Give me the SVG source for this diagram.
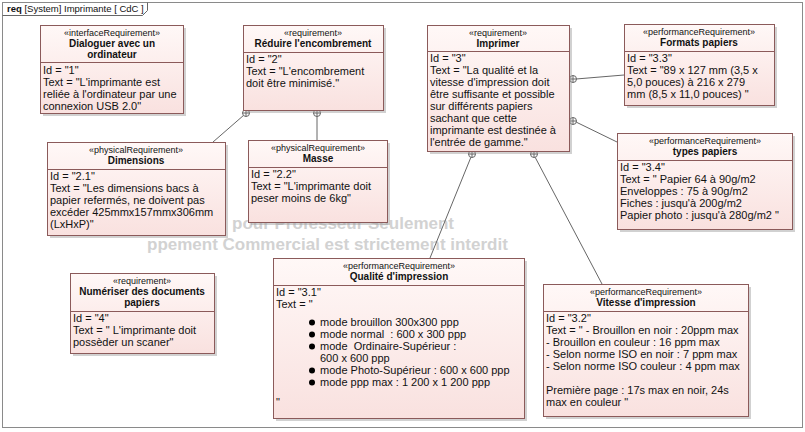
<svg xmlns="http://www.w3.org/2000/svg" xmlns:xlink="http://www.w3.org/1999/xlink" width="805" height="432" viewBox="0 0 805 432">
<style>
.frame{fill:#fff;stroke:#8a8a8a;stroke-width:1}
.box{fill:url(#pk);stroke:#8b5a5a;stroke-width:1}
.sh{fill:#9a9a9a;opacity:0.45}
.dv{stroke:#8b5a5a;stroke-width:1}
.st{font-family:"Liberation Sans",Arial,sans-serif;font-size:9px;text-anchor:middle;fill:#111}
.ti{font-family:"Liberation Sans",Arial,sans-serif;font-size:10px;font-weight:bold;text-anchor:middle;fill:#111}
.bd{font-family:"Liberation Sans",Arial,sans-serif;font-size:11px;fill:#111;white-space:pre}
.hd{font-family:"Liberation Sans",Arial,sans-serif;font-size:9.5px;fill:#111}
.wm{font-family:"Liberation Sans",Arial,sans-serif;font-size:17px;font-weight:bold;fill:#d2d2d2}
.cn{stroke:#666;stroke-width:1;fill:none}
.cc{fill:#fff;stroke:#666;stroke-width:1}
</style>
<defs>
<linearGradient id="pk" x1="0" y1="0" x2="0" y2="1">
<stop offset="0" stop-color="#fff8f7"/>
<stop offset="1" stop-color="#f9e1df"/>
</linearGradient>
<g id="own">
<circle class="cc" r="3.5"/>
<path class="cn" d="M-3.5 0H3.5M0 -3.5V3.5"/>
</g>
</defs>
<rect x="0" y="0" width="805" height="432" fill="#fff"/>
<rect class="frame" x="2.5" y="2.5" width="800" height="425"/>
<path class="cn" d="M2.5 15.5H142.5L147.5 10.5V2.5" stroke="#8a8a8a"/>
<text class="hd" x="7" y="12"><tspan font-weight="bold">req</tspan> [System] Imprimante [ CdC ]</text>

<g id="watermark">
<text class="wm" x="232" y="229">pour Professeur Seulement</text>
<text class="wm" x="147" y="250">ppement Commercial est strictement interdit</text>
</g>

<g id="connectors">
<line class="cn" x1="244" y1="115" x2="213" y2="142"/>
<line class="cn" x1="317" y1="116" x2="317" y2="140"/>
<line class="cn" x1="576" y1="79" x2="624" y2="75"/>
<line class="cn" x1="576" y1="122" x2="617" y2="142"/>
<line class="cn" x1="471" y1="157" x2="430" y2="258"/>
<line class="cn" x1="535" y1="157" x2="602" y2="284"/>
<use xlink:href="#own" x="246" y="113"/>
<use xlink:href="#own" x="317" y="113"/>
<use xlink:href="#own" x="573" y="79"/>
<use xlink:href="#own" x="573" y="121"/>
<use xlink:href="#own" x="472" y="154"/>
<use xlink:href="#own" x="534" y="154"/>
</g>

<g id="n1">
<rect class="sh" x="43" y="28" width="143" height="88"/>
<rect class="box" x="40.5" y="25.5" width="143" height="88"/>
<line class="dv" x1="40.5" y1="62.5" x2="183.5" y2="62.5"/>
<text class="st" x="112" y="36">«interfaceRequirement»</text>
<text class="ti" x="112" y="47">Dialoguer avec un</text>
<text class="ti" x="112" y="58">ordinateur</text>
<text class="bd" x="43" y="74">Id = "1"</text>
<text class="bd" x="43" y="86">Text = "L'imprimante est</text>
<text class="bd" x="43" y="98">reliée à l'ordinateur par une</text>
<text class="bd" x="43" y="110">connexion USB 2.0"</text>
</g>

<g id="n2">
<rect class="sh" x="246" y="28" width="140" height="85"/>
<rect class="box" x="243.5" y="25.5" width="140" height="85"/>
<line class="dv" x1="243.5" y1="52.5" x2="383.5" y2="52.5"/>
<text class="st" x="313" y="36">«requirement»</text>
<text class="ti" x="313" y="47">Réduire l'encombrement</text>
<text class="bd" x="246" y="63">Id = "2"</text>
<text class="bd" x="246" y="75">Text = "L'encombrement</text>
<text class="bd" x="246" y="87">doit être minimisé."</text>
</g>

<g id="n3">
<rect class="sh" x="430" y="28" width="142" height="126"/>
<rect class="box" x="427.5" y="25.5" width="142" height="126"/>
<line class="dv" x1="427.5" y1="51.5" x2="569.5" y2="51.5"/>
<text class="st" x="498" y="36">«requirement»</text>
<text class="ti" x="498" y="47">Imprimer</text>
<text class="bd" x="430" y="62">Id = "3"</text>
<text class="bd" x="430" y="74">Text = "La qualité et la</text>
<text class="bd" x="430" y="86">vitesse d'impression doit</text>
<text class="bd" x="430" y="98">être suffisante et possible</text>
<text class="bd" x="430" y="110">sur différents papiers</text>
<text class="bd" x="430" y="122">sachant que cette</text>
<text class="bd" x="430" y="134">imprimante est destinée à</text>
<text class="bd" x="430" y="146">l'entrée de gamme."</text>
</g>

<g id="n33">
<rect class="sh" x="627" y="27" width="150" height="81"/>
<rect class="box" x="624.5" y="24.5" width="150" height="81"/>
<line class="dv" x1="624.5" y1="51.5" x2="774.5" y2="51.5"/>
<text class="st" x="699" y="35">«performanceRequirement»</text>
<text class="ti" x="699" y="46">Formats papiers</text>
<text class="bd" x="627" y="62">Id = "3.3"</text>
<text class="bd" x="627" y="74">Text = "89 x 127 mm (3,5 x</text>
<text class="bd" x="627" y="86">5,0 pouces) à 216 x 279</text>
<text class="bd" x="627" y="98">mm (8,5 x 11,0 pouces) "</text>
</g>

<g id="n34">
<rect class="sh" x="620" y="136" width="175" height="96"/>
<rect class="box" x="617.5" y="133.5" width="175" height="96"/>
<line class="dv" x1="617.5" y1="160.5" x2="792.5" y2="160.5"/>
<text class="st" x="705" y="144">«performanceRequirement»</text>
<text class="ti" x="705" y="155">types papiers</text>
<text class="bd" x="620" y="171">Id = "3.4"</text>
<text class="bd" x="620" y="183">Text = " Papier 64 à 90g/m2</text>
<text class="bd" x="620" y="195">Enveloppes : 75 à 90g/m2</text>
<text class="bd" x="620" y="207">Fiches : jusqu'à 200g/m2</text>
<text class="bd" x="620" y="219">Papier photo : jusqu'à 280g/m2 "</text>
</g>

<g id="n21">
<rect class="sh" x="50" y="145" width="178" height="93"/>
<rect class="box" x="47.5" y="142.5" width="178" height="93"/>
<line class="dv" x1="47.5" y1="169.5" x2="225.5" y2="169.5"/>
<text class="st" x="136" y="153">«physicalRequirement»</text>
<text class="ti" x="136" y="164">Dimensions</text>
<text class="bd" x="50" y="180">Id = "2.1"</text>
<text class="bd" x="50" y="192">Text = "Les dimensions bacs à</text>
<text class="bd" x="50" y="204">papier refermés, ne doivent pas</text>
<text class="bd" x="50" y="216">excéder 425mmx157mmx306mm</text>
<text class="bd" x="50" y="228">(LxHxP)"</text>
</g>

<g id="n22">
<rect class="sh" x="251" y="143" width="139" height="82"/>
<rect class="box" x="248.5" y="140.5" width="139" height="82"/>
<line class="dv" x1="248.5" y1="167.5" x2="387.5" y2="167.5"/>
<text class="st" x="318" y="151">«physicalRequirement»</text>
<text class="ti" x="318" y="162">Masse</text>
<text class="bd" x="251" y="178">Id = "2.2"</text>
<text class="bd" x="251" y="190">Text = "L'imprimante doit</text>
<text class="bd" x="251" y="202">peser moins de 6kg"</text>
</g>

<g id="n4">
<rect class="sh" x="73" y="276" width="144" height="80"/>
<rect class="box" x="70.5" y="273.5" width="144" height="80"/>
<line class="dv" x1="70.5" y1="311.5" x2="214.5" y2="311.5"/>
<text class="st" x="142" y="284">«requirement»</text>
<text class="ti" x="142" y="295">Numériser des documents</text>
<text class="ti" x="142" y="306">papiers</text>
<text class="bd" x="73" y="322">Id = "4"</text>
<text class="bd" x="73" y="334">Text = " L'imprimante doit</text>
<text class="bd" x="73" y="346">possèder un scaner"</text>
</g>

<g id="n31">
<rect class="sh" x="276" y="261" width="251" height="160"/>
<rect class="box" x="273.5" y="258.5" width="251" height="160"/>
<line class="dv" x1="273.5" y1="285.5" x2="524.5" y2="285.5"/>
<text class="st" x="399" y="269">«performanceRequirement»</text>
<text class="ti" x="399" y="280">Qualité d'impression</text>
<text class="bd" x="276" y="296">Id = "3.1"</text>
<text class="bd" x="276" y="308">Text = "</text>
<circle cx="312" cy="322.5" r="3"/>
<circle cx="312" cy="334.5" r="3"/>
<circle cx="312" cy="346.5" r="3"/>
<circle cx="312" cy="370.5" r="3"/>
<circle cx="312" cy="382.5" r="3"/>
<text class="bd" x="320" y="326">mode brouillon 300x300 ppp</text>
<text class="bd" x="320" y="338">mode normal  : 600 x 300 ppp</text>
<text class="bd" x="320" y="350">mode  Ordinaire-Supérieur :</text>
<text class="bd" x="320" y="362">600 x 600 ppp</text>
<text class="bd" x="320" y="374">mode Photo-Supérieur : 600 x 600 ppp</text>
<text class="bd" x="320" y="386">mode ppp max : 1 200 x 1 200 ppp</text>
<text class="bd" x="276" y="406">"</text>
</g>

<g id="n32">
<rect class="sh" x="546" y="287" width="205" height="132"/>
<rect class="box" x="543.5" y="284.5" width="205" height="132"/>
<line class="dv" x1="543.5" y1="311.5" x2="748.5" y2="311.5"/>
<text class="st" x="646" y="295">«performanceRequirement»</text>
<text class="ti" x="646" y="306">Vitesse d'impression</text>
<text class="bd" x="546" y="322">Id = "3.2"</text>
<text class="bd" x="546" y="334">Text = " - Brouillon en noir : 20ppm max</text>
<text class="bd" x="546" y="346">- Brouillon en couleur : 16 ppm max</text>
<text class="bd" x="546" y="358">- Selon norme ISO en noir : 7 ppm max</text>
<text class="bd" x="546" y="370">- Selon norme ISO couleur : 4 ppm max</text>
<text class="bd" x="546" y="394">Première page : 17s max en noir, 24s</text>
<text class="bd" x="546" y="406">max en couleur "</text>
</g>
</svg>
